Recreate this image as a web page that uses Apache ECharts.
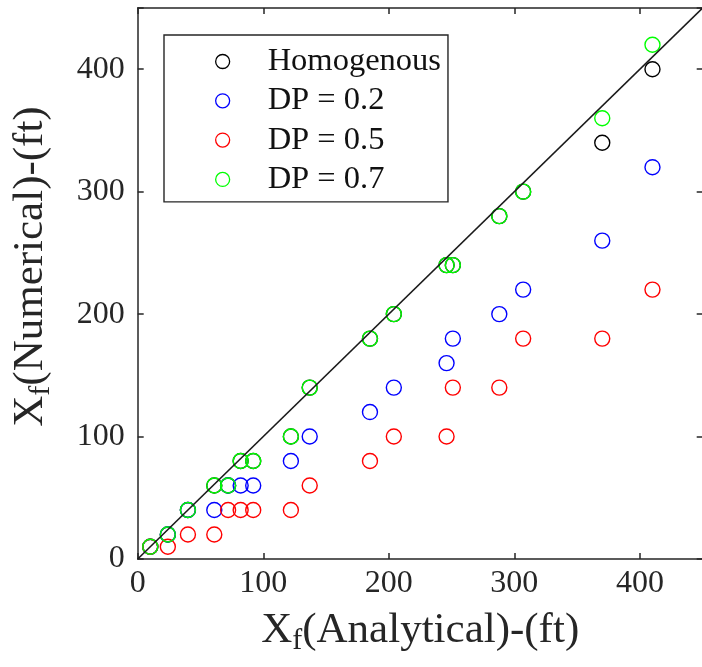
<!DOCTYPE html>
<html>
<head>
<meta charset="utf-8">
<script src="https://cdn.jsdelivr.net/npm/echarts@6/dist/echarts.min.js"></script>
<style>
  html, body { margin: 0; padding: 0; background: #ffffff; overflow: hidden; }
  #chart { width: 702px; height: 667px; }
</style>
</head>
<body>
<div id="chart"></div>
<script>
// Analytical front position (ft), shared by every case
const xAnalytical = [10, 24, 40, 61, 72, 82, 92, 122, 137, 185, 204, 246, 251, 288, 307, 370, 410];

// Numerical front position (ft) for each heterogeneity case
const homogenous = [10, 20, 40, 60, 60, 80, 80, 100, 140, 180, 200, 240, 240, 280, 300, 340, 400];
const dp02       = [10, 20, 40, 40, 60, 60, 60, 80, 100, 120, 140, 160, 180, 200, 220, 260, 320];
const dp05       = [10, 10, 20, 20, 40, 40, 40, 40, 60, 80, 100, 100, 140, 140, 180, 180, 220];
const dp07       = [10, 20, 40, 60, 60, 80, 80, 100, 140, 180, 200, 240, 240, 280, 300, 360, 420];

const seriesNames  = ['Homogenous', 'DP = 0.2', 'DP = 0.5', 'DP = 0.7'];
const seriesValues = [homogenous, dp02, dp05, dp07];
const seriesColors = ['#000000', '#0000ff', '#ff0000', '#00ff00'];

// Axis range and ticks
const axisMin = 0, axisMax = 450, tickStep = 100;
// 1:1 reference line
const unityLine = [[0, 0], [450, 450]];

const serif = "'Times New Roman', 'Liberation Serif', 'DejaVu Serif', serif";
const ink = '#262626';

const chart = echarts.init(document.getElementById('chart'), null, { renderer: 'canvas', width: 702, height: 667 });

const scatterSeries = seriesNames.map((name, i) => ({
  name: name,
  type: 'scatter',
  symbol: 'circle',
  symbolSize: 15,
  data: xAnalytical.map((x, k) => [x, seriesValues[i][k]]),
  itemStyle: { color: 'rgba(0,0,0,0)', borderColor: seriesColors[i], borderWidth: 1.4, opacity: 1 },
  emphasis: { disabled: true },
  z: 2 + i
}));

// Axis titles: main text plus a lowered subscript "f"
function titleRich(size, subSize) {
  return {
    m: { fontFamily: serif, fontSize: size, color: ink, lineHeight: 50, verticalAlign: 'middle' },
    s: { fontFamily: serif, fontSize: subSize, color: ink, lineHeight: 2, verticalAlign: 'bottom' }
  };
}

const axisCommon = {
  type: 'value',
  min: axisMin,
  max: axisMax,
  interval: tickStep,
  splitLine: { show: false },
  axisLine: { show: true, onZero: false, lineStyle: { color: ink, width: 1.5 } },
  axisTick: { show: true, inside: true, length: 6, lineStyle: { color: ink, width: 1.5 } }
};

const tickText = v => (v % tickStep === 0 && v <= 400) ? String(v) : '';

chart.setOption({
  animation: false,
  backgroundColor: '#ffffff',
  grid: { left: 137.7, top: 8, width: 565, height: 551, containLabel: false, outerBoundsMode: 'none' },
  xAxis: [
    Object.assign({}, axisCommon, {
      position: 'bottom',
      name: '{m|X}{s|f}{m|(Analytical)-(ft)}',
      nameLocation: 'middle',
      nameGap: 47,
      nameTextStyle: { rich: titleRich(43, 30) },
      axisLabel: { fontFamily: serif, fontSize: 32, color: ink, margin: 9, formatter: tickText }
    }),
    Object.assign({}, axisCommon, {
      position: 'top',
      axisLabel: { show: false }
    })
  ],
  yAxis: [
    Object.assign({}, axisCommon, {
      position: 'left',
      name: '{m|X}{s|f}{m|(Numerical)-(ft)}',
      nameLocation: 'middle',
      nameRotate: 90,
      nameGap: 82,
      nameTextStyle: { rich: titleRich(43, 30), padding: [0, 0, 0, 34] },
      axisLabel: { fontFamily: serif, fontSize: 32, color: ink, margin: 13, formatter: tickText }
    }),
    Object.assign({}, axisCommon, {
      position: 'right',
      axisLine: { show: false, onZero: false },
      axisLabel: { show: false }
    })
  ],
  legend: {
    show: true,
    orient: 'vertical',
    left: 164,
    top: 35,
    padding: [10, 7, 6, 51],
    itemGap: 6.3,
    itemWidth: 14,
    itemHeight: 14,
    selectedMode: false,
    backgroundColor: '#ffffff',
    borderColor: ink,
    borderWidth: 1.4,
    borderRadius: 0,
    textStyle: { fontFamily: serif, fontSize: 32.5, color: '#111111', lineHeight: 30, padding: [0, 0, 0, 33] },
    data: seriesNames.map((name, i) => ({
      name: name,
      icon: 'circle',
      itemStyle: { color: 'rgba(0,0,0,0)', borderColor: seriesColors[i], borderWidth: 1.3 }
    }))
  },
  series: scatterSeries.concat([{
    name: 'unity',
    type: 'line',
    data: unityLine,
    symbol: 'none',
    lineStyle: { color: '#1a1a1a', width: 1.6 },
    emphasis: { disabled: true },
    silent: true,
    z: 10
  }])
});
</script>
</body>
</html>
